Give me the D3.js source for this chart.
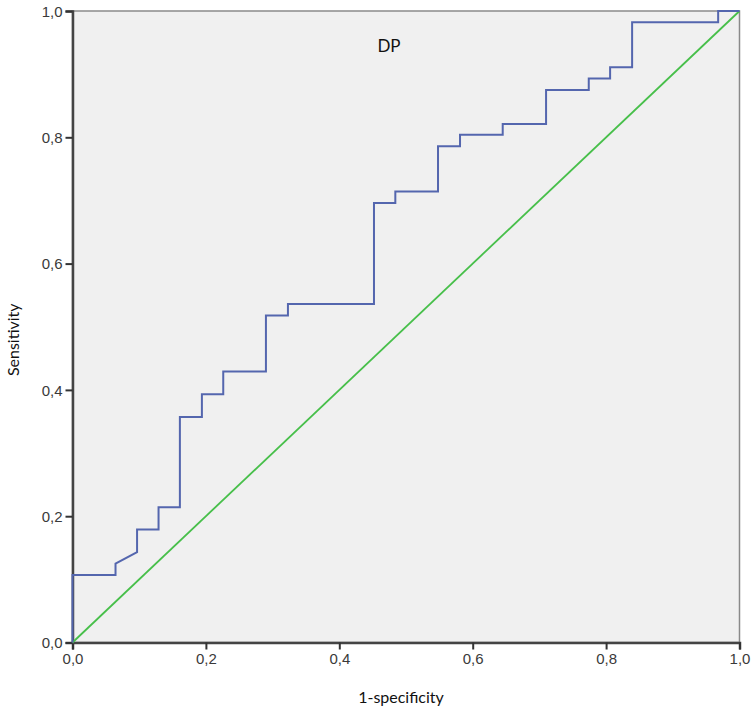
<!DOCTYPE html>
<meta charset="utf-8">
<script src="https://d3js.org/d3.v7.min.js"></script>
<style>
  body { margin: 0; background: #fff; }
  text { font-family: "Liberation Sans", Arial, sans-serif; }
</style>
<div id="roc"></div>
<script>
  // ROC curve corners (1-specificity, sensitivity)
  var fpr = [0, 0, 0.0645, 0.0645, 0.0968, 0.0968, 0.129, 0.129, 0.161, 0.161,
    0.194, 0.194, 0.226, 0.226, 0.290, 0.290, 0.323, 0.323, 0.452, 0.452,
    0.484, 0.484, 0.548, 0.548, 0.581, 0.581, 0.645, 0.645, 0.710, 0.710,
    0.774, 0.774, 0.806, 0.806, 0.839, 0.839, 0.968, 0.968, 1];
  var tpr = [0, 0.107, 0.107, 0.125, 0.143, 0.179, 0.179, 0.214, 0.214, 0.357,
    0.357, 0.393, 0.393, 0.429, 0.429, 0.518, 0.518, 0.536, 0.536, 0.696,
    0.696, 0.714, 0.714, 0.786, 0.786, 0.804, 0.804, 0.821, 0.821, 0.875,
    0.875, 0.893, 0.893, 0.911, 0.911, 0.982, 0.982, 1, 1];
  var refX = [0, 1];
  var refY = [0, 1];
  var ticks = [0, 0.2, 0.4, 0.6, 0.8, 1];

  var margin = { top: 11, right: 14.5, bottom: 68.5, left: 72.5 },
    width = 754 - margin.left - margin.right,
    height = 711 - margin.top - margin.bottom;

  var svg = d3.select("#roc")
    .append("svg")
    .attr("width", 754)
    .attr("height", 711)
    .append("g")
    .attr("transform", "translate(" + margin.left + "," + margin.top + ")");

  var x = d3.scaleLinear().domain([0, 1]).range([0, width]);
  var y = d3.scaleLinear().domain([0, 1]).range([height, 0]);
  var fmt = function (d) { return d3.format(".1f")(d).replace(".", ","); };

  // plot background
  svg.append("rect")
    .attr("width", width)
    .attr("height", height)
    .attr("fill", "#f0f0f0")
    .attr("stroke", "#8a8a8a")
    .attr("stroke-width", 1.5);

  // axes
  var xAxis = svg.append("g")
    .attr("transform", "translate(0," + height + ")")
    .call(d3.axisBottom(x).tickValues(ticks).tickFormat(fmt).tickSize(7).tickPadding(4));
  var yAxis = svg.append("g")
    .call(d3.axisLeft(y).tickValues(ticks).tickFormat(fmt).tickSize(7).tickPadding(3));
  [xAxis, yAxis].forEach(function (a) {
    a.select(".domain").attr("stroke", "#444").attr("stroke-width", 2.5);
    a.selectAll(".tick line").attr("stroke", "#333").attr("stroke-width", 2);
    a.selectAll(".tick text")
      .attr("fill", "#3a3a3a")
      .style("font-size", "15px")
      .style("font-family", "'Liberation Sans', Arial, sans-serif");
  });
  yAxis.selectAll(".tick text").attr("dy", "0.35em");

  // reference diagonal
  var line = d3.line()
    .x(function (d) { return x(d[0]); })
    .y(function (d) { return y(d[1]); });

  svg.append("path")
    .datum(d3.zip(refX, refY))
    .attr("d", line)
    .attr("fill", "none")
    .attr("stroke", "#47bf4a")
    .attr("stroke-width", 1.8);

  // ROC curve
  svg.append("path")
    .datum(d3.zip(fpr, tpr))
    .attr("d", line)
    .attr("fill", "none")
    .attr("stroke", "#5466ae")
    .attr("stroke-width", 2);

  // title
  svg.append("text")
    .attr("x", x(0.4745))
    .attr("y", 41)
    .attr("text-anchor", "middle")
    .style("font-family", "Lato, 'Open Sans', sans-serif")
    .style("font-size", "17px")
    .style("fill", "#111")
    .text("DP");

  // axis titles
  svg.append("text")
    .attr("x", width / 2 - 5)
    .attr("y", height + 60)
    .attr("text-anchor", "middle")
    .style("font-family", "Lato, 'Open Sans', sans-serif")
    .style("font-size", "16px")
    .style("fill", "#111")
    .text("1-specificity");

  svg.append("text")
    .attr("transform", "translate(" + (-53.5) + "," + (height / 2 + 13) + ") rotate(-90)")
    .attr("text-anchor", "middle")
    .style("font-family", "Lato, 'Open Sans', sans-serif")
    .style("font-size", "16px")
    .style("fill", "#111")
    .text("Sensitivity");
</script>
